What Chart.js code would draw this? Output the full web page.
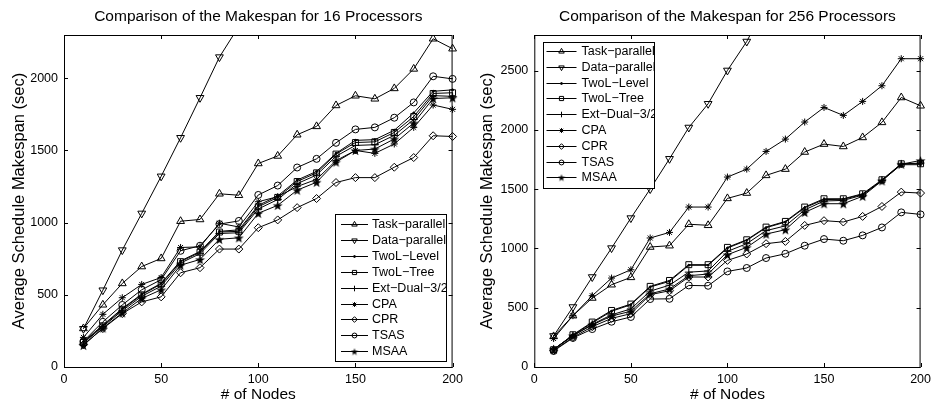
<!DOCTYPE html>
<html>
<head>
<meta charset="utf-8">
<script src="https://cdn.jsdelivr.net/npm/chart.js"></script>
<style>
  body { margin: 0; background: #fff; }
  #wrap { position: relative; width: 936px; height: 402px; }
  canvas { position: absolute; top: 0; }
</style>
</head>
<body>
<div id="wrap">
  <canvas id="c16" width="468" height="402" style="left:0;width:468px;height:402px"></canvas>
  <canvas id="c256" width="468" height="402" style="left:468px;width:468px;height:402px"></canvas>
</div>
<script>
// x positions (number of nodes)
const nodes = [10, 20, 30, 40, 50, 60, 70, 80, 90, 100, 110, 120, 130, 140, 150, 160, 170, 180, 190, 200];
const xTicks = [0, 50, 100, 150, 200];
const yTicks16 = [0, 500, 1000, 1500, 2000];
const yTicks256 = [0, 500, 1000, 1500, 2000, 2500];
const seriesNames = ['Task\u2212parallel', 'Data\u2212parallel', 'TwoL\u2212Level', 'TwoL\u2212Tree',
  'Ext\u2212Dual\u22123/2', 'CPA', 'CPR', 'TSAS', 'MSAA'];

// 16 processors
const task16  = [267, 431, 579, 696, 752, 1010, 1022, 1200, 1190, 1410, 1462, 1609, 1667, 1812, 1879, 1858, 1930, 2065, 2274, 2205];
const data16  = [265, 532, 810, 1064, 1321, 1588, 1865, 2147, 2360, 2620, null, null, null, null, null, null, null, null, null, null];
const level16 = [175, 290, 405, 505, 580, 735, 800, 940, 950, 1120, 1185, 1295, 1355, 1480, 1570, 1575, 1640, 1760, 1910, 1920];
const tree16  = [170, 285, 400, 500, 575, 730, 795, 935, 940, 1110, 1175, 1285, 1345, 1475, 1555, 1560, 1625, 1735, 1895, 1900];
const ext16   = [165, 280, 390, 490, 560, 720, 785, 925, 930, 1095, 1160, 1270, 1330, 1460, 1535, 1540, 1605, 1715, 1880, 1875];
const cpa16   = [205, 365, 480, 572, 620, 828, 832, 996, 970, 1145, 1180, 1250, 1300, 1430, 1500, 1480, 1545, 1660, 1815, 1785];
const cpr16   = [155, 266, 370, 451, 486, 653, 688, 817, 817, 965, 1019, 1104, 1167, 1278, 1312, 1312, 1384, 1451, 1602, 1597];
const tsas16  = [178, 313, 430, 535, 605, 805, 840, 990, 1012, 1192, 1257, 1382, 1442, 1553, 1646, 1660, 1727, 1833, 2014, 1996];
const msaa16  = [150, 270, 375, 475, 535, 705, 745, 885, 895, 1065, 1120, 1225, 1280, 1420, 1500, 1510, 1580, 1690, 1860, 1865];

// 256 processors
const task256  = [258, 433, 582, 694, 756, 1012, 1023, 1204, 1195, 1422, 1467, 1616, 1669, 1813, 1880, 1860, 1936, 2063, 2273, 2203];
const data256  = [262, 506, 759, 1003, 1256, 1501, 1756, 2020, 2220, 2501, 2745, 3060, null, null, null, null, null, null, null, null];
const level256 = [148, 268, 372, 470, 525, 675, 722, 858, 858, 1003, 1068, 1175, 1222, 1343, 1412, 1414, 1456, 1572, 1706, 1706];
const tree256  = [146, 272, 379, 477, 531, 680, 730, 863, 863, 1009, 1073, 1180, 1228, 1349, 1419, 1419, 1461, 1579, 1714, 1714];
const ext256   = [150, 262, 360, 440, 490, 640, 690, 800, 810, 975, 1040, 1150, 1190, 1325, 1400, 1405, 1450, 1575, 1712, 1720];
const cpa256   = [240, 433, 601, 750, 820, 1088, 1135, 1349, 1349, 1602, 1669, 1818, 1922, 2066, 2189, 2122, 2240, 2372, 2600, 2600];
const cpr256   = [140, 250, 340, 410, 450, 610, 643, 759, 759, 899, 953, 1040, 1059, 1194, 1234, 1223, 1270, 1354, 1475, 1467];
const tsas256  = [135, 245, 320, 382, 422, 573, 575, 688, 685, 806, 835, 919, 955, 1023, 1079, 1065, 1110, 1177, 1304, 1287];
const msaa256  = [150, 265, 355, 430, 470, 618, 658, 770, 784, 947, 1009, 1121, 1158, 1304, 1377, 1377, 1440, 1570, 1710, 1742];

Chart.defaults.font.family = '"Liberation Sans", Arial, Helvetica, sans-serif';
Chart.defaults.color = '#000';
Chart.defaults.animation = false;

// filled five-point star for MSAA
function makeStar(size) {
  const c = document.createElement('canvas');
  c.width = size; c.height = size;
  const g = c.getContext('2d');
  const m = size / 2, ro = size * 0.47, ri = ro * 0.4;
  g.fillStyle = '#000';
  g.beginPath();
  for (let k = 0; k < 10; k++) {
    const r = k % 2 ? ri : ro;
    const a = -Math.PI / 2 + k * Math.PI / 5;
    const px = m + r * Math.cos(a), py = m + 0.06 * size + r * Math.sin(a);
    if (k) g.lineTo(px, py); else g.moveTo(px, py);
  }
  g.closePath();
  g.fill();
  return c;
}
const starImg = makeStar(11);
const starSmall = makeStar(8);

const markers = [
  { style: 'triangle', r: 4.5, rot: 0, fill: false },
  { style: 'triangle', r: 4.5, rot: 180, fill: false },
  { style: 'circle', r: 1, rot: 0, fill: true },
  { style: 'rect', r: 4.2, rot: 0, fill: false },
  { style: 'cross', r: 4, rot: 0, fill: false },
  { style: 'star', r: 3.5, rot: 0, fill: false },
  { style: 'rectRot', r: 4, rot: 0, fill: false },
  { style: 'circle', r: 3.5, rot: 0, fill: false },
  { style: starImg, r: 5, rot: 0, fill: true }
];

function makeDatasets(series) {
  return series.map((vals, i) => {
    const m = markers[i];
    return {
      label: seriesNames[i],
      data: nodes.map((n, j) => ({ x: n, y: vals[j] })),
      borderColor: '#000',
      borderWidth: 1,
      pointStyle: m.style,
      pointRadius: m.r,
      pointRotation: m.rot,
      pointBorderColor: '#000',
      pointBackgroundColor: m.fill ? '#000' : 'rgba(0,0,0,0)',
      pointBorderWidth: 1,
      tension: 0,
      clip: { left: 6, right: 6, top: 0, bottom: 6 }
    };
  });
}

// box, inward ticks and legend, drawn after the lines
const framePlugin = {
  id: 'frame',
  afterDatasetsDraw(chart, args, opts) {
    const { ctx, chartArea: a } = chart;
    const xs = chart.scales.x, ys = chart.scales.y;
    ctx.save();
    ctx.strokeStyle = '#000';
    ctx.lineWidth = 1;
    ctx.strokeRect(a.left + 0.5, a.top + 0.5, a.right - a.left - 1, a.bottom - a.top);
    ctx.beginPath();
    xTicks.forEach(v => {
      const px = Math.round(xs.getPixelForValue(v)) + 0.5;
      ctx.moveTo(px, a.bottom); ctx.lineTo(px, a.bottom - 4);
      ctx.moveTo(px, a.top); ctx.lineTo(px, a.top + 4);
    });
    opts.yTicks.forEach(v => {
      const py = Math.round(ys.getPixelForValue(v)) + 0.5;
      ctx.moveTo(a.left, py); ctx.lineTo(a.left + 4, py);
      ctx.moveTo(a.right, py); ctx.lineTo(a.right - 4, py);
    });
    ctx.stroke();

    // legend
    const b = opts.legend;
    ctx.fillStyle = '#fff';
    ctx.fillRect(b.x, b.y, b.w, b.h);
    ctx.strokeRect(b.x + 0.5, b.y + 0.5, b.w, b.h);
    ctx.beginPath();
    ctx.rect(b.x, b.y, b.w, b.h);
    ctx.clip();
    ctx.font = '12.5px "Liberation Sans", Arial, sans-serif';
    ctx.textBaseline = 'middle';
    ctx.textAlign = 'left';
    chart.data.datasets.forEach((ds, i) => {
      const y = Math.round(b.y + b.first + i * b.step) + 0.5;
      ctx.strokeStyle = '#000';
      ctx.lineWidth = 1;
      ctx.beginPath();
      ctx.moveTo(b.x + b.l0, y);
      ctx.lineTo(b.x + b.l1, y);
      ctx.stroke();
      ctx.fillStyle = ds.pointBackgroundColor;
      const img = ds.pointStyle === starImg;
      Chart.helpers.drawPoint(ctx, {
        pointStyle: img ? starSmall : ds.pointStyle,
        radius: ds.pointRadius > 2 ? ds.pointRadius * 0.7 : ds.pointRadius,
        rotation: ds.pointRotation, borderWidth: 1
      }, b.x + (b.l0 + b.l1) / 2, y);
      ctx.fillStyle = '#000';
      ctx.fillText(ds.label, b.x + b.tx, y);
    });
    ctx.restore();
  }
};

function buildChart(id, title, series, yMax, yTicks, axisW, padRight, legend) {
  return new Chart(document.getElementById(id), {
    type: 'line',
    data: { datasets: makeDatasets(series) },
    options: {
      responsive: false,
      animation: false,
      events: [],
      layout: { padding: { left: 0, right: padRight, top: 0, bottom: 0 } },
      plugins: {
        legend: { display: false },
        tooltip: { enabled: false },
        title: {
          display: true, text: title, fullSize: false, color: '#000',
          font: { size: 15.5, weight: 'normal', lineHeight: 1 },
          padding: { top: 9, bottom: 10.5 }
        },
        frame: { yTicks: yTicks, legend: legend }
      },
      scales: {
        x: {
          type: 'linear', min: 0, max: 200,
          grid: { display: false, drawTicks: false },
          border: { display: false },
          ticks: { padding: 5, autoSkip: false, maxRotation: 0, color: '#000', font: { size: 12.5 },
            callback: v => String(v) },
          afterBuildTicks: s => { s.ticks = xTicks.map(v => ({ value: v })); },
          afterFit: s => { s.height = 35; },
          title: {
            display: true, text: '# of Nodes', color: '#000',
            font: { size: 15.5, lineHeight: 1 }, padding: { top: 0, bottom: 0 }
          }
        },
        y: {
          type: 'linear', min: 0, max: yMax,
          grid: { display: false, drawTicks: false },
          border: { display: false },
          ticks: { padding: 6, autoSkip: false, color: '#000', font: { size: 12.5 },
            callback: v => String(v) },
          afterBuildTicks: s => { s.ticks = yTicks.map(v => ({ value: v })); },
          afterFit: s => { s.width = axisW; },
          title: {
            display: true, text: 'Average Schedule Makespan (sec)', color: '#000',
            font: { size: 16.5, lineHeight: 1 }, padding: { top: 11, bottom: 0 }
          }
        }
      }
    },
    plugins: [framePlugin]
  });
}

buildChart('c16', 'Comparison of the Makespan for 16 Processors',
  [task16, data16, level16, tree16, ext16, cpa16, cpr16, tsas16, msaa16],
  2300, yTicks16, 64, 13,
  { x: 335, y: 214, w: 111, h: 147, first: 10, step: 15.9, l0: 6, l1: 33, tx: 37 });

buildChart('c256', 'Comparison of the Makespan for 256 Processors',
  [task256, data256, level256, tree256, ext256, cpa256, cpr256, tsas256, msaa256],
  2800, yTicks256, 66.3, 10.7,
  { x: 75, y: 42, w: 111, h: 146, first: 9, step: 15.8, l0: 3.5, l1: 33.5, tx: 38.5 });
</script>
</body>
</html>
